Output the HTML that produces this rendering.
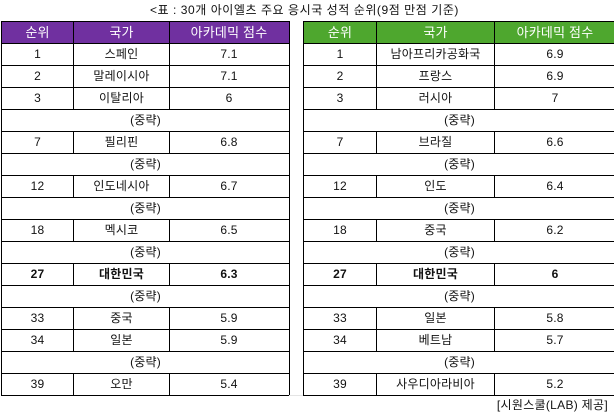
<!DOCTYPE html>
<html>
<head>
<meta charset="utf-8">
<style>
  html,body{margin:0;padding:0;background:#fff;}
  body{width:614px;height:417px;position:relative;overflow:hidden;
    font-family:"Liberation Sans","Noto Sans CJK KR","NanumGothic",sans-serif;color:#111;font-size:12px;}
  .cap{position:absolute;left:150px;top:2px;font-size:12px;line-height:16px;white-space:nowrap;color:#111;letter-spacing:0.55px;}
  .foot{position:absolute;right:6px;top:397px;font-size:12px;line-height:16px;white-space:nowrap;color:#111;letter-spacing:0.3px;}
  .tbl{position:absolute;top:21px;border:1px solid #000;border-bottom:none;}
  .row{display:flex;height:21px;border-bottom:1px solid #000;}
  .c{height:21px;line-height:21px;text-align:center;white-space:nowrap;overflow:hidden;box-sizing:border-box;letter-spacing:0.2px;}
  .c+.c{border-left:1px solid #000;}
  .hd .c{color:#fff;font-size:13px;}
  .L .hd{background:#7030a0;}
  .R .hd{background:#4ea72e;}
  .L .c1{width:71px}.L .c2{width:96px}.L .c3{width:119px}
  .R .c1{width:72px}.R .c2{width:118px}.R .c3{width:121px}
  .full{width:100%;}
  .b .c{font-weight:bold;}
  .gap{position:absolute;left:289px;top:395px;width:14px;height:1px;background:#e4e4e4;}
</style>
</head>
<body>
<div class="cap">&lt;표 : 30개 아이엘츠 주요 응시국 성적 순위(9점 만점 기준)</div>

<div class="tbl L" style="left:1px;width:287px;">
  <div class="row hd"><div class="c c1">순위</div><div class="c c2">국가</div><div class="c c3">아카데믹 점수</div></div>
  <div class="row"><div class="c c1">1</div><div class="c c2">스페인</div><div class="c c3">7.1</div></div>
  <div class="row"><div class="c c1">2</div><div class="c c2">말레이시아</div><div class="c c3">7.1</div></div>
  <div class="row"><div class="c c1">3</div><div class="c c2">이탈리아</div><div class="c c3">6</div></div>
  <div class="row"><div class="c full">(중략)</div></div>
  <div class="row"><div class="c c1">7</div><div class="c c2">필리핀</div><div class="c c3">6.8</div></div>
  <div class="row"><div class="c full">(중략)</div></div>
  <div class="row"><div class="c c1">12</div><div class="c c2">인도네시아</div><div class="c c3">6.7</div></div>
  <div class="row"><div class="c full">(중략)</div></div>
  <div class="row"><div class="c c1">18</div><div class="c c2">멕시코</div><div class="c c3">6.5</div></div>
  <div class="row"><div class="c full">(중략)</div></div>
  <div class="row b"><div class="c c1">27</div><div class="c c2">대한민국</div><div class="c c3">6.3</div></div>
  <div class="row"><div class="c full">(중략)</div></div>
  <div class="row"><div class="c c1">33</div><div class="c c2">중국</div><div class="c c3">5.9</div></div>
  <div class="row"><div class="c c1">34</div><div class="c c2">일본</div><div class="c c3">5.9</div></div>
  <div class="row"><div class="c full">(중략)</div></div>
  <div class="row"><div class="c c1">39</div><div class="c c2">오만</div><div class="c c3">5.4</div></div>
</div>

<div class="gap"></div>

<div class="tbl R" style="left:303px;width:311px;">
  <div class="row hd"><div class="c c1">순위</div><div class="c c2">국가</div><div class="c c3">아카데믹 점수</div></div>
  <div class="row"><div class="c c1">1</div><div class="c c2">남아프리카공화국</div><div class="c c3">6.9</div></div>
  <div class="row"><div class="c c1">2</div><div class="c c2">프랑스</div><div class="c c3">6.9</div></div>
  <div class="row"><div class="c c1">3</div><div class="c c2">러시아</div><div class="c c3">7</div></div>
  <div class="row"><div class="c full">(중략)</div></div>
  <div class="row"><div class="c c1">7</div><div class="c c2">브라질</div><div class="c c3">6.6</div></div>
  <div class="row"><div class="c full">(중략)</div></div>
  <div class="row"><div class="c c1">12</div><div class="c c2">인도</div><div class="c c3">6.4</div></div>
  <div class="row"><div class="c full">(중략)</div></div>
  <div class="row"><div class="c c1">18</div><div class="c c2">중국</div><div class="c c3">6.2</div></div>
  <div class="row"><div class="c full">(중략)</div></div>
  <div class="row b"><div class="c c1">27</div><div class="c c2">대한민국</div><div class="c c3">6</div></div>
  <div class="row"><div class="c full">(중략)</div></div>
  <div class="row"><div class="c c1">33</div><div class="c c2">일본</div><div class="c c3">5.8</div></div>
  <div class="row"><div class="c c1">34</div><div class="c c2">베트남</div><div class="c c3">5.7</div></div>
  <div class="row"><div class="c full">(중략)</div></div>
  <div class="row"><div class="c c1">39</div><div class="c c2">사우디아라비아</div><div class="c c3">5.2</div></div>
</div>

<div class="foot">[시원스쿨(LAB) 제공]</div>
</body>
</html>
